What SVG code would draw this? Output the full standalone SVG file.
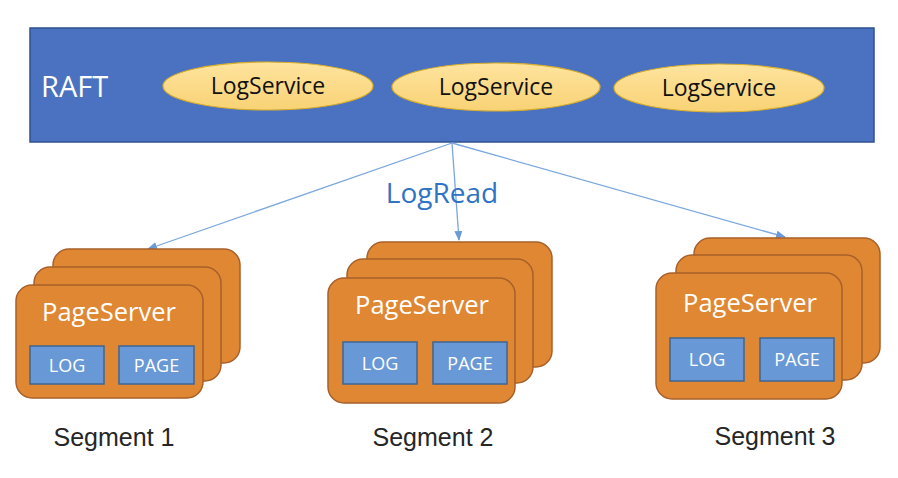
<svg xmlns="http://www.w3.org/2000/svg" width="898" height="478" viewBox="0 0 898 478">
<defs>
<linearGradient id="gold" x1="0" y1="0" x2="0" y2="1">
<stop offset="0" stop-color="#FFE49E"/>
<stop offset="1" stop-color="#F8D275"/>
</linearGradient>
<marker id="arr" markerWidth="10" markerHeight="8" refX="9" refY="4" orient="auto" markerUnits="userSpaceOnUse">
<path d="M0,0 L10,4 L0,8 z" fill="#6A9BD8"/>
</marker>
<style>
.raft{fill:#4A72C0;stroke:#2F528F;stroke-width:1.5}
.svc{fill:url(#gold);stroke:#D9AE2A;stroke-width:1.2}
.svct{font-family:"Open Sans","Noto Sans",sans-serif;font-size:23px;fill:#111;text-anchor:middle}
.card{fill:#DF8732;stroke:#A8602A;stroke-width:1.5}
.box{fill:#6899D6;stroke:#3E6596;stroke-width:1.5}
.ps{font-family:"Open Sans","Noto Sans",sans-serif;font-size:25.5px;fill:#fff;text-anchor:middle}
.bt{font-family:"Open Sans","Noto Sans",sans-serif;font-size:18px;fill:#fff;text-anchor:middle}
.seg{font-family:"Liberation Sans",Arial,sans-serif;font-size:25px;fill:#262626;text-anchor:middle}
.conn{stroke:#7BA7DE;stroke-width:1.3;fill:none;marker-end:url(#arr)}
</style>
</defs>
<rect width="898" height="478" fill="#fff"/>
<g id="raft">
<rect class="raft" x="30" y="28" width="844" height="114"/>
<text x="41" y="97" font-family="'Open Sans','Noto Sans',sans-serif" font-size="29" fill="#fff">RAFT</text>
</g>
<g id="logservice1">
<ellipse class="svc" cx="268" cy="86" rx="105" ry="24"/>
<text class="svct" x="268" y="94">LogService</text>
</g>
<g id="logservice2">
<ellipse class="svc" cx="496" cy="87" rx="104" ry="24"/>
<text class="svct" x="496" y="95">LogService</text>
</g>
<g id="logservice3">
<ellipse class="svc" cx="719" cy="88" rx="105" ry="24"/>
<text class="svct" x="719" y="96">LogService</text>
</g>
<g id="connectors">
<line class="conn" x1="452" y1="143" x2="148" y2="249"/>
<line class="conn" x1="452" y1="143" x2="459" y2="240"/>
<line class="conn" x1="452" y1="143" x2="785" y2="237"/>
<text x="442" y="203" font-family="'Open Sans','Noto Sans',sans-serif" font-size="28" fill="#2F73C4" text-anchor="middle">LogRead</text>
</g>
<g id="segment1">
<rect class="card" x="53" y="249" width="187" height="114" rx="16"/>
<rect class="card" x="34" y="267" width="187" height="114" rx="16"/>
<rect class="card" x="16" y="285" width="187" height="113" rx="16"/>
<text class="ps" x="109" y="321">PageServer</text>
<rect class="box" x="30" y="346" width="74" height="38"/>
<text class="bt" x="67" y="372">LOG</text>
<rect class="box" x="119" y="346" width="75" height="38"/>
<text class="bt" x="156.5" y="372">PAGE</text>
<text class="seg" x="114" y="446">Segment 1</text>
</g>
<g id="segment2">
<rect class="card" x="367" y="242" width="185" height="125" rx="16"/>
<rect class="card" x="347" y="259" width="186" height="124" rx="16"/>
<rect class="card" x="328" y="278" width="187" height="125" rx="16"/>
<text class="ps" x="422" y="314">PageServer</text>
<rect class="box" x="343" y="342" width="74" height="42"/>
<text class="bt" x="380" y="370">LOG</text>
<rect class="box" x="433" y="342" width="74" height="42"/>
<text class="bt" x="470" y="370">PAGE</text>
<text class="seg" x="433" y="446">Segment 2</text>
</g>
<g id="segment3">
<rect class="card" x="694" y="238" width="186" height="125" rx="16"/>
<rect class="card" x="676" y="255" width="186" height="125" rx="16"/>
<rect class="card" x="656" y="273" width="186" height="126" rx="16"/>
<text class="ps" x="750" y="312">PageServer</text>
<rect class="box" x="670" y="338" width="74" height="43"/>
<text class="bt" x="707" y="366">LOG</text>
<rect class="box" x="760" y="338" width="74" height="43"/>
<text class="bt" x="797" y="366">PAGE</text>
<text class="seg" x="775" y="445">Segment 3</text>
</g>
</svg>
